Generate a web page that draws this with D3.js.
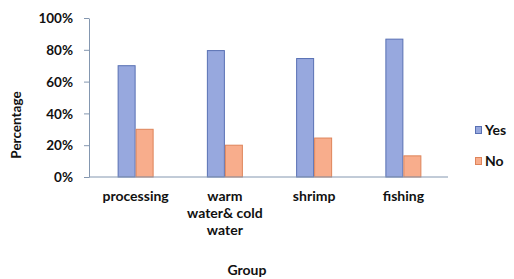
<!DOCTYPE html>
<html><head><meta charset="utf-8">
<script src="https://cdn.jsdelivr.net/npm/d3@7"></script>
<style>
body{margin:0;background:#fff;}
text{font-family:Lato,"Open Sans",sans-serif;font-weight:bold;fill:#111;}
</style></head>
<body><svg id="c" width="514" height="279"></svg>
<script>
const categories = [["processing"], ["warm", "water& cold", "water"], ["shrimp"], ["fishing"]];
const seriesNames = ["Yes", "No"];
const yesValues = [70, 79.5, 74.5, 86.7];
const noValues = [30, 20, 24.5, 13.3];
const yTicks = [0, 20, 40, 60, 80, 100];
const colors = {Yes: {fill: "#97a8de", stroke: "#5870b3"}, No: {fill: "#f8ad8c", stroke: "#de845a"}};

const svg = d3.select("#c");
const x = d3.scaleBand().domain(d3.range(categories.length)).range([91, 448]).paddingInner(0).paddingOuter(0);
const y = d3.scaleLinear().domain([0, 100]).range([177, 18]);
const pairW = 36;
const xs = d3.scaleBand().domain(seriesNames).range([0, pairW]);

// y axis
const yAxis = d3.axisLeft(y).tickValues(yTicks).tickFormat(d => d + "%").tickSize(5).tickSizeOuter(0);
const ga = svg.append("g").attr("transform", "translate(89,0)").call(yAxis);
ga.select(".domain").attr("stroke", "#8497b0");
ga.selectAll(".tick line").attr("stroke", "#8497b0");
ga.selectAll(".tick text").attr("x", -16).attr("dy", "0.35em").style("font-size", "13.5px").style("font-family", "Lato,sans-serif").style("font-weight", "bold").attr("fill", "#111");

// bars
const data = [];
categories.forEach((c, i) => {
  data.push({i, s: "Yes", v: yesValues[i]});
  data.push({i, s: "No", v: noValues[i]});
});
svg.append("g").selectAll("rect").data(data).join("rect")
  .attr("x", d => x(d.i) + x.bandwidth() / 2 - pairW / 2 + xs(d.s) + 0.5)
  .attr("y", d => y(d.v))
  .attr("width", xs.bandwidth() - 1)
  .attr("height", d => y(0) - y(d.v))
  .attr("fill", d => colors[d.s].fill)
  .attr("stroke", d => colors[d.s].stroke)
  .attr("stroke-width", 1);

// x axis line
svg.append("line").attr("x1", 89).attr("x2", 448).attr("y1", y(0)).attr("y2", y(0)).attr("stroke", "#8497b0");

// x labels
categories.forEach((lines, i) => {
  const t = svg.append("text").attr("text-anchor", "middle").style("font-size", "14px");
  lines.forEach((l, k) => {
    t.append("tspan").attr("x", x(i) + x.bandwidth() / 2).attr("y", 201 + k * 17).text(l);
  });
});

// axis titles
svg.append("text").attr("text-anchor", "middle").style("font-size", "13.5px")
  .attr("transform", "translate(21,125) rotate(-90)").text("Percentage");
svg.append("text").attr("text-anchor", "middle").style("font-size", "14px")
  .attr("x", 247).attr("y", 275).text("Group");

// legend
seriesNames.forEach((s, k) => {
  const cy = 130 + k * 31;
  svg.append("rect").attr("x", 475.5).attr("y", cy - 3.5).attr("width", 6).attr("height", 7)
    .attr("fill", colors[s].fill).attr("stroke", colors[s].stroke);
  svg.append("text").attr("x", 485).attr("y", cy).attr("dy", "0.35em").style("font-size", "14px").text(s);
});
</script></body></html>
